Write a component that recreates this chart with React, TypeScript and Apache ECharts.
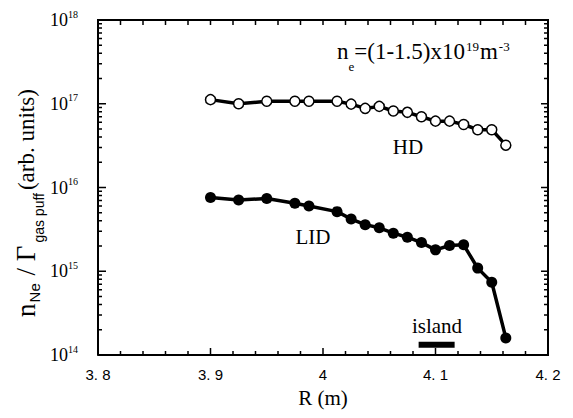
import React, { useEffect, useRef } from 'react';
import * as echarts from 'echarts';

const rValues = [3.9, 3.925, 3.95, 3.975, 3.9875, 4.0125, 4.025, 4.0375, 4.05, 4.0625, 4.075, 4.0875, 4.1, 4.1125, 4.125, 4.1375, 4.15, 4.1625];
const hdValues = [1.12e17, 1.0e17, 1.07e17, 1.07e17, 1.07e17, 1.07e17, 0.99e17, 8.8e16, 9.3e16, 8.2e16, 7.9e16, 7.0e16, 6.2e16, 6.2e16, 5.65e16, 4.9e16, 4.9e16, 3.2e16];
const lidValues = [7.6e15, 7.1e15, 7.4e15, 6.5e15, 6.0e15, 5.15e15, 4.2e15, 3.6e15, 3.3e15, 2.85e15, 2.55e15, 2.2e15, 1.8e15, 2.03e15, 2.07e15, 1.09e15, 7.4e14, 1.6e14];
const islandR = [4.085, 4.117];
const islandLevel = 1.33e14;

const xTicks = [3.8, 3.9, 4.0, 4.1, 4.2];
const xTickLabels = ['3. 8', '3. 9', '4', '4. 1', '4. 2'];
const xMinorSteps = [0.02, 0.04, 0.06, 0.08];
const yDecades = [1e14, 1e15, 1e16, 1e17, 1e18];
const yExponents = ['14', '15', '16', '17', '18'];
const minorMultipliers = [2, 3, 4, 5, 6, 7, 8, 9];

const serif = '"Liberation Serif", "DejaVu Serif", serif';
const sans = '"Liberation Sans", "DejaVu Sans", sans-serif';

const W = 565;
const H = 410;
const GRID = { left: 90, right: 25, top: 12, bottom: 63 };

export default function App() {
  const ref = useRef<HTMLDivElement>(null);
  useEffect(() => {
    if (!ref.current) return;
    const chart = echarts.init(ref.current, null, { renderer: 'svg' });

    const xMin = xTicks[0];
    const xMax = xTicks[xTicks.length - 1];
    const yMin = yDecades[0];
    const yMax = yDecades[yDecades.length - 1];
    const plotW = W - GRID.left - GRID.right;
    const plotH = H - GRID.top - GRID.bottom;
    const pxPerDecade = plotH / Math.log10(yMax / yMin);
    const xPerPx = (xMax - xMin) / plotW;
    const yShift = (px: number) => Math.pow(10, px / pxPerDecade);

    // tick positions
    const xMinor: number[] = [];
    xTicks.slice(0, -1).forEach((t) => xMinorSteps.forEach((s) => xMinor.push(t + s)));
    const xAll = [...xTicks.map((x) => ({ x, major: true })), ...xMinor.map((x) => ({ x, major: false }))].sort((a, b) => a.x - b.x);
    const yAll: { v: number; major: boolean }[] = [];
    yDecades.forEach((d, i) => {
      yAll.push({ v: d, major: true });
      if (i < yDecades.length - 1) minorMultipliers.forEach((m) => yAll.push({ v: d * m, major: false }));
    });

    // zig-zag polylines that run along each edge of the frame and poke inwards at each tick
    const bottomPts: number[][] = [];
    xAll.forEach((t) => {
      const len = t.major ? 7 : 4;
      bottomPts.push([t.x, yMin], [t.x, yMin * yShift(len)], [t.x, yMin]);
    });
    const topPts: number[][] = [];
    xAll.forEach((t) => {
      topPts.push([t.x, yMax], [t.x, yMax / yShift(5)], [t.x, yMax]);
    });
    const leftPts: number[][] = [];
    yAll.forEach((t) => {
      const len = t.major ? 8 : 4;
      leftPts.push([xMin, t.v], [xMin + len * xPerPx, t.v], [xMin, t.v]);
    });
    const rightPts: number[][] = [];
    yAll.forEach((t) => {
      const len = t.major ? 7 : 4;
      rightPts.push([xMax, t.v], [xMax - len * xPerPx, t.v], [xMax, t.v]);
    });
    const framePts = [[xMin, yMin], [xMax, yMin], [xMax, yMax], [xMin, yMax], [xMin, yMin]];

    const decor = (name: string, data: number[][], width: number) => ({
      name,
      type: 'line',
      data,
      symbol: 'none',
      silent: true,
      clip: false,
      z: 5,
      lineStyle: { color: '#000', width, join: 'miter' },
      emphasis: { disabled: true },
    });

    chart.setOption({
      animation: false,
      backgroundColor: '#fff',
      grid: { ...GRID, containLabel: false },
      tooltip: { show: false },
      xAxis: {
        type: 'value',
        min: 3.8,
        max: 4.2,
        interval: 0.1,
        position: 'bottom',
        splitLine: { show: false },
        axisLine: { show: false },
        axisTick: { show: false },
        axisLabel: {
          show: true,
          margin: 12,
          color: '#000',
          fontFamily: sans,
          fontSize: 15,
          formatter: (v: number) => {
            const i = xTicks.findIndex((t) => Math.abs(t - v) < 1e-6);
            return i >= 0 ? xTickLabels[i] : '';
          },
        },
        name: 'R (m)',
        nameLocation: 'middle',
        nameGap: 32,
        nameTextStyle: { color: '#000', fontFamily: serif, fontSize: 21 },
      },
      yAxis: {
        type: 'log',
        logBase: 10,
        min: 1e14,
        max: 1e18,
        position: 'left',
        splitLine: { show: false },
        axisLine: { show: false },
        axisTick: { show: false },
        axisLabel: {
          show: true,
          margin: 20,
          color: '#000',
          formatter: (v: number) => {
            const i = yDecades.findIndex((d) => Math.abs(Math.log10(d) - Math.log10(v)) < 1e-6);
            return i >= 0 ? `{b|10}{s|${yExponents[i]}}` : '';
          },
          rich: {
            b: { fontFamily: serif, fontSize: 18, lineHeight: 20, color: '#000' },
            s: { fontFamily: serif, fontSize: 10, lineHeight: 20, padding: [0, 0, 12, 0], color: '#000' },
          },
        },
      },
      series: [
        decor('bottomTicks', bottomPts, 1.5),
        decor('topTicks', topPts, 1.5),
        decor('leftTicks', leftPts, 1.5),
        decor('rightTicks', rightPts, 1.5),
        decor('frame', framePts, 2),
        {
          name: 'HD',
          type: 'line',
          data: rValues.map((r, i) => [r, hdValues[i]]),
          symbol: 'circle',
          symbolSize: 10,
          itemStyle: { color: '#fff', borderColor: '#000', borderWidth: 1.5 },
          lineStyle: { color: '#000', width: 3.5 },
          z: 3,
        },
        {
          name: 'LID',
          type: 'line',
          data: rValues.map((r, i) => [r, lidValues[i]]),
          symbol: 'circle',
          symbolSize: 11,
          itemStyle: { color: '#000' },
          lineStyle: { color: '#000', width: 3.5 },
          z: 3,
        },
        {
          name: 'island',
          type: 'line',
          data: islandR.map((r) => [r, islandLevel]),
          symbol: 'none',
          lineStyle: { color: '#000', width: 6 },
        },
      ],
      graphic: [
        {
          type: 'text',
          x: 329,
          y: 43,
          style: {
            text: '{m|n}{sub|e}{m|=(1-1.5)x10}{sup|19}{m|m}{sup|-3}',
            verticalAlign: 'middle',
            align: 'left',
            rich: {
              m: { fontFamily: serif, fontSize: 23, lineHeight: 24, fill: '#000' },
              sub: { fontFamily: serif, fontSize: 13, lineHeight: 24, padding: [30, 0, 0, 0], fill: '#000' },
              sup: { fontFamily: serif, fontSize: 13, lineHeight: 24, padding: [0, 1, 10, 1], fill: '#000' },
            },
          },
        },
        {
          type: 'text',
          x: 400,
          y: 139,
          style: { text: 'HD', fontFamily: serif, fontSize: 21, fill: '#000', align: 'center', verticalAlign: 'middle' },
        },
        {
          type: 'text',
          x: 305,
          y: 229,
          style: { text: 'LID', fontFamily: serif, fontSize: 21, fill: '#000', align: 'center', verticalAlign: 'middle' },
        },
        {
          type: 'text',
          x: 429,
          y: 318,
          style: { text: 'island', fontFamily: serif, fontSize: 21, fill: '#000', align: 'center', verticalAlign: 'middle' },
        },
        {
          type: 'text',
          x: 18,
          y: 195,
          rotation: Math.PI / 2,
          style: {
            text: '{m|n}{ne|Ne}{m| / Γ}{g|gas puff}{a|(arb. units)}',
            align: 'center',
            verticalAlign: 'middle',
            rich: {
              m: { fontFamily: serif, fontSize: 27, lineHeight: 26, fill: '#000' },
              ne: { fontFamily: sans, fontSize: 15, lineHeight: 26, padding: [16, 1, 0, 1], fill: '#000' },
              g: { fontFamily: sans, fontSize: 14, lineHeight: 26, padding: [26, 3, 0, 3], fill: '#000' },
              a: { fontFamily: serif, fontSize: 23, lineHeight: 26, fill: '#000' },
            },
          },
        },
      ],
    });
    return () => chart.dispose();
  }, []);
  return <div ref={ref} style={{ width: W, height: H }} />;
}
